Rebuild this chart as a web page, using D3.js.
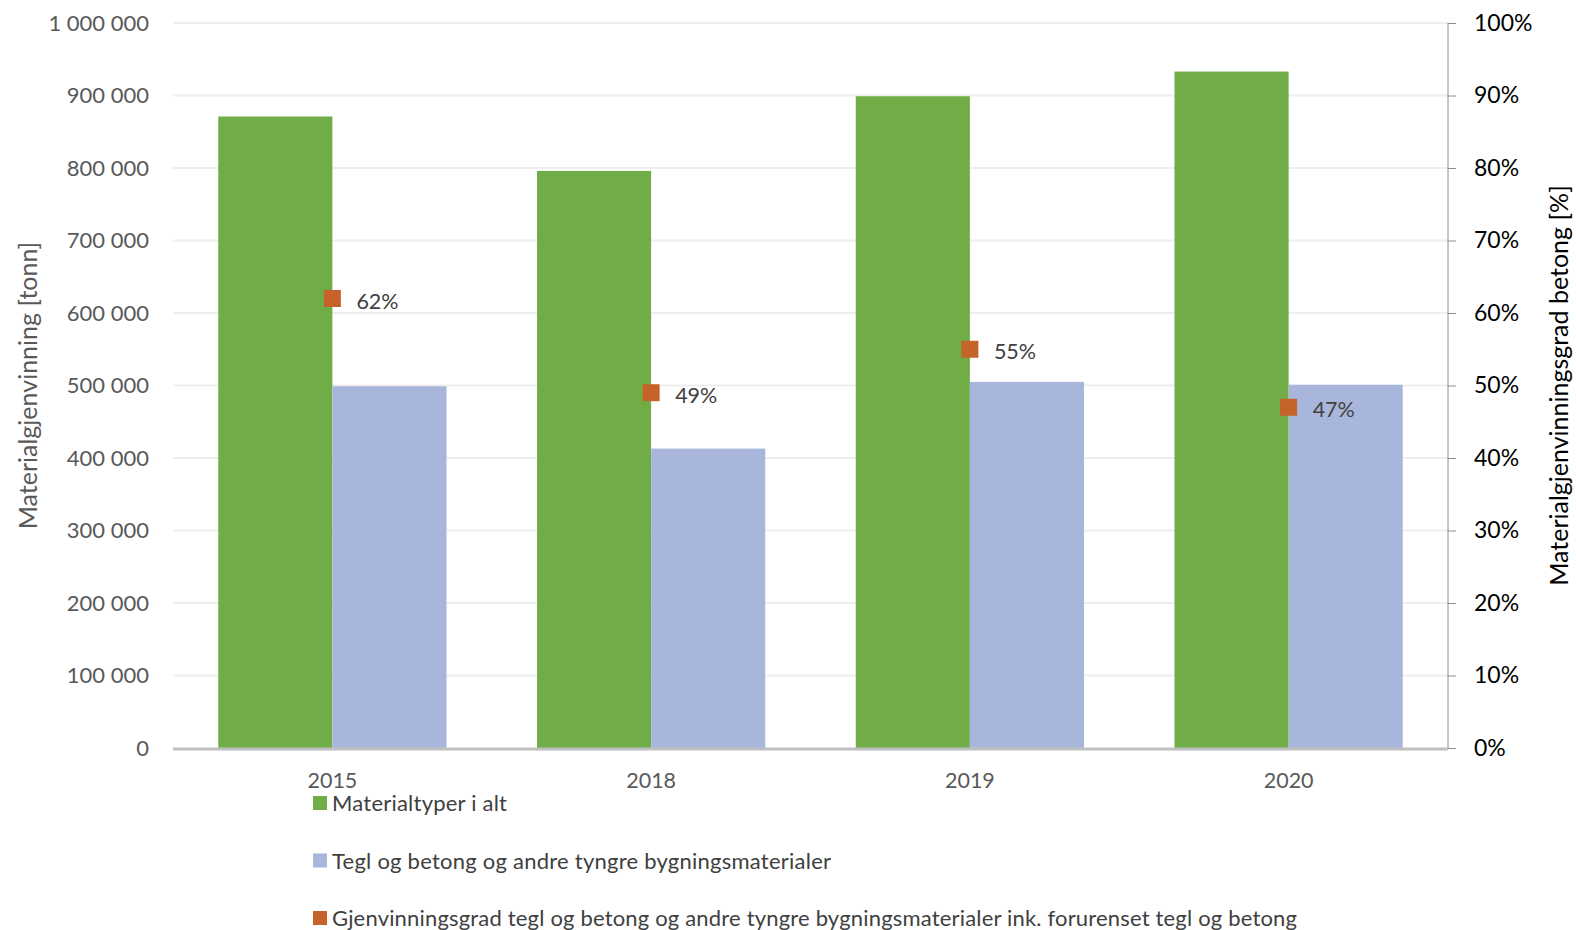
<!DOCTYPE html>
<html>
<head>
  <meta charset="utf-8">
  <script src="https://d3js.org/d3.v7.min.js"></script>
  <style>
    html, body { margin: 0; padding: 0; background: #fff; overflow: hidden; }
    svg { display: block; }
    text { font-family: Lato, "Open Sans", sans-serif; }
  </style>
</head>
<body>
<script type="text/javascript">

    // data
    var years = ["2015", "2018", "2019", "2020"];
    var totalTonn = [871000, 796000, 899000, 933000];
    var heavyTonn = [499000, 413000, 505000, 501000];
    var recoveryRate = [0.62, 0.49, 0.55, 0.47];
    var leftTicks = [0, 100000, 200000, 300000, 400000, 500000, 600000, 700000, 800000, 900000, 1000000];
    var rightTicks = [0, 0.1, 0.2, 0.3, 0.4, 0.5, 0.6, 0.7, 0.8, 0.9, 1.0];
    var seriesNames = [
        "Materialtyper i alt",
        "Tegl og betong og andre tyngre bygningsmaterialer",
        "Gjenvinningsgrad tegl og betong og andre tyngre bygningsmaterialer ink. forurenset tegl og betong"
    ];

    var w = 1576, h = 930;
    var margin = {top: 23, right: 128, bottom: 182, left: 173};
    var width = w - margin.left - margin.right,
        height = h - margin.top - margin.bottom;

    var green = "#70ad47", blue = "#a9b6db", orange = "#c5632a";

    var svg = d3.select("body").append("svg")
                .attr("width", w).attr("height", h);
    var g = svg.append("g")
               .attr("transform", "translate(" + margin.left + "," + margin.top + ")");

    var x = d3.scaleBand().domain(years).range([0, width]).paddingInner(0.284).paddingOuter(0.142);
    var x1 = d3.scaleBand().domain([0, 1]).range([0, x.bandwidth()]);
    var y = d3.scaleLinear().domain([0, 1000000]).range([height, 0]);
    var y2 = d3.scaleLinear().domain([0, 1]).range([height, 0]);

    var spaceFmt = function(d) { return d3.format(",")(d).replace(/,/g, " "); };
    var pct = d3.format(".0%");

/*************************************************************************************************/
/* grid + axes */

    g.append("g").selectAll("line")
     .data(leftTicks.slice(1))
     .enter().append("line")
     .attr("x1", 0).attr("x2", width)
     .attr("y1", function(d) { return y(d); }).attr("y2", function(d) { return y(d); })
     .attr("stroke", "#eeeeee").attr("stroke-width", 2);

    var leftAxis = g.append("g")
       .call(d3.axisLeft(y).tickValues(leftTicks).tickFormat(spaceFmt).tickSize(0).tickPadding(24));
    leftAxis.select(".domain").remove();
    leftAxis.selectAll("text").attr("fill", "#595959").style("font-size", "22px")
            .style("font-family", "Lato, sans-serif");

    var rightAxis = g.append("g").attr("transform", "translate(" + width + ",0)")
       .call(d3.axisRight(y2).tickValues(rightTicks).tickFormat(pct).tickSize(8).tickPadding(18));
    rightAxis.select(".domain").attr("stroke", "#8c8c8c").attr("d", "M0,0V" + height);
    rightAxis.selectAll("line").attr("stroke", "#8c8c8c");
    rightAxis.selectAll("text").attr("fill", "#000").style("font-size", "23px")
             .style("font-family", "Lato, sans-serif");

    var bottomAxis = g.append("g").attr("transform", "translate(0," + height + ")")
       .call(d3.axisBottom(x).tickSize(0).tickPadding(25));
    bottomAxis.select(".domain").remove();
    bottomAxis.selectAll("text").attr("fill", "#595959").style("font-size", "21.5px")
              .style("font-family", "Lato, sans-serif");

/*************************************************************************************************/
/* bars */

    var groups = g.append("g").selectAll("g")
                  .data(years).enter().append("g")
                  .attr("transform", function(d) { return "translate(" + x(d) + ",0)"; });

    groups.append("rect")
          .attr("x", x1(0)).attr("width", x1.bandwidth())
          .attr("y", function(d, i) { return y(totalTonn[i]); })
          .attr("height", function(d, i) { return height - y(totalTonn[i]); })
          .attr("fill", green);

    groups.append("rect")
          .attr("x", x1(1)).attr("width", x1.bandwidth())
          .attr("y", function(d, i) { return y(heavyTonn[i]); })
          .attr("height", function(d, i) { return height - y(heavyTonn[i]); })
          .attr("fill", blue);

    // baseline
    g.append("line").attr("x1", 0).attr("x2", width)
     .attr("y1", height + 1).attr("y2", height + 1)
     .attr("stroke", "#bfbfbf").attr("stroke-width", 3);

/*************************************************************************************************/
/* recovery markers */

    var mk = 17;
    g.append("g").selectAll("rect")
     .data(recoveryRate).enter().append("rect")
     .attr("x", function(d, i) { return x(years[i]) + x.bandwidth() / 2 - mk / 2; })
     .attr("y", function(d) { return y2(d) - mk / 2; })
     .attr("width", mk).attr("height", mk)
     .attr("fill", orange);

    g.append("g").selectAll("text")
     .data(recoveryRate).enter().append("text")
     .attr("x", function(d, i) { return x(years[i]) + x.bandwidth() / 2 + 24; })
     .attr("y", function(d) { return y2(d) + 10; })
     .attr("fill", "#404040").style("font-size", "21.5px")
     .text(function(d) { return pct(d); });

/*************************************************************************************************/
/* axis titles */

    svg.append("text")
       .attr("transform", "translate(37," + (margin.top + height / 2) + ") rotate(-90)")
       .attr("text-anchor", "middle").attr("fill", "#595959").style("font-size", "25px")
       .text("Materialgjenvinning [tonn]");

    svg.append("text")
       .attr("transform", "translate(1568," + (margin.top + height / 2) + ") rotate(-90)")
       .attr("text-anchor", "middle").attr("fill", "#000").style("font-size", "25px")
       .text("Materialgjenvinningsgrad betong [%]");

/*************************************************************************************************/
/* legend */

    var legendColors = [green, blue, orange];
    var legendWidths = [175, 499, 965];
    var legend = svg.append("g");
    legend.selectAll("rect")
          .data(legendColors).enter().append("rect")
          .attr("x", 313).attr("y", function(d, i) { return 796 + i * 57.5; })
          .attr("width", 14).attr("height", 14)
          .attr("fill", function(d) { return d; });
    legend.selectAll("text")
          .data(seriesNames).enter().append("text")
          .attr("x", 332).attr("y", function(d, i) { return 811 + i * 57.5; })
          .attr("fill", "#404040").style("font-size", "22px")
          .attr("textLength", function(d, i) { return legendWidths[i]; })
          .attr("lengthAdjust", "spacing")
          .text(function(d) { return d; });

</script>
</body>
</html>
